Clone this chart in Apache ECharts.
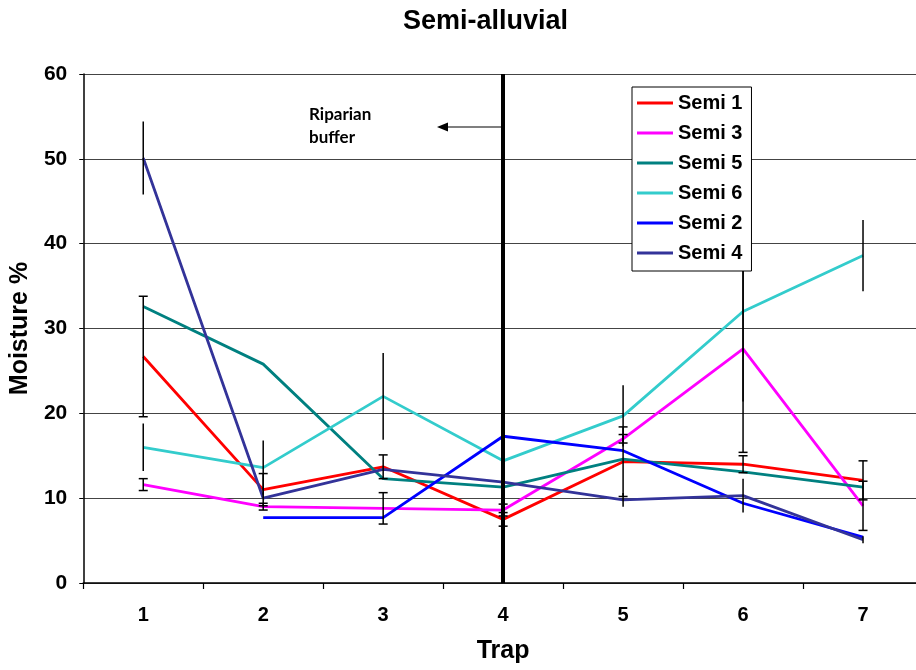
<!DOCTYPE html>
<html>
<head>
<meta charset="utf-8">
<script src="https://cdn.jsdelivr.net/npm/echarts@6/dist/echarts.min.js"></script>
<style>
html,body{margin:0;padding:0;background:#fff;overflow:hidden;}
#chart{width:923px;height:670px;}
</style>
</head>
<body>
<div id="chart"></div>
<script>
var traps = ['1', '2', '3', '4', '5', '6', '7'];
var yTicks = [0, 10, 20, 30, 40, 50, 60];

// mean moisture per trap
var semi1 = [26.7, 11.0, 13.7, 7.5, 14.3, 14.0, 12.1];
var semi3 = [11.6, 9.0, 8.8, 8.6, 17.0, 27.6, 9.1];
var semi5 = [32.6, 25.8, 12.3, 11.3, 14.6, 13.1, 11.3];
var semi6 = [16.0, 13.6, 22.0, 14.4, 19.7, 32.0, 38.6];
var semi2 = [null, 7.7, 7.7, 17.3, 15.6, 9.4, 5.4];
var semi4 = [50.1, 10.0, 13.4, 11.9, 9.8, 10.3, 5.1];

// error (+/-), null = no bar
var semi1Err = [7.1, 1.9, 1.4, 0.8, 4.1, 1.0, 2.3];
var semi3Err = [0.7, 0.4, 1.85, 0.7, 0.5, 12.2, 2.9];
var semi6Err = [2.8, 3.2, 5.1, null, 3.6, 10.6, 4.2];
var semi4Err = [4.3, null, null, null, 0.8, 2.0, 0.4];

var FONT = 'Liberation Sans';

function errData(vals, errs) {
    var out = [];
    for (var i = 0; i < vals.length; i++) {
        if (vals[i] == null || errs[i] == null) continue;
        out.push([i, vals[i] + errs[i], vals[i] - errs[i]]);
    }
    return out;
}

function makeErrRender(caps) {
    return function (params, api) {
        var hi = api.coord([api.value(0), api.value(1)]);
        var lo = api.coord([api.value(0), api.value(2)]);
        var st = { stroke: '#000', lineWidth: 1.5 };
        var kids = [{
            type: 'line',
            shape: { x1: hi[0], y1: hi[1], x2: lo[0], y2: lo[1] },
            style: st
        }];
        if (caps) {
            kids.push({ type: 'line', shape: { x1: hi[0] - 4.5, y1: hi[1], x2: hi[0] + 4.5, y2: hi[1] }, style: st });
            kids.push({ type: 'line', shape: { x1: lo[0] - 4.5, y1: lo[1], x2: lo[0] + 4.5, y2: lo[1] }, style: st });
        }
        return { type: 'group', children: kids };
    };
}

function lineSeries(name, data, color) {
    return {
        name: name,
        type: 'line',
        data: data,
        symbol: 'none',
        connectNulls: false,
        lineStyle: { color: color, width: 2.8 },
        itemStyle: { color: color },
        z: 2
    };
}

function errSeries(vals, errs, caps) {
    return {
        type: 'custom',
        data: errData(vals, errs),
        renderItem: makeErrRender(caps),
        silent: true,
        z: 3
    };
}

var chart = echarts.init(document.getElementById('chart'));
var option = {
    animation: false,
    backgroundColor: '#fff',
    title: {
        text: 'Semi-alluvial',
        left: 398,
        top: 3,
        textStyle: { fontFamily: FONT, fontSize: 27, fontWeight: 'bold', color: '#000' }
    },
    grid: { left: 83, top: 74, right: 0, bottom: 87 },
    legend: {
        data: ['Semi 1', 'Semi 3', 'Semi 5', 'Semi 6', 'Semi 2', 'Semi 4'],
        orient: 'vertical',
        left: 632,
        top: 87,
        padding: [6, 9, 8, 5],
        itemGap: 10,
        itemWidth: 36,
        itemHeight: 3,
        icon: 'rect',
        backgroundColor: '#fff',
        borderColor: '#000',
        borderWidth: 1,
        textStyle: { fontFamily: FONT, fontSize: 20, fontWeight: 'bold', color: '#000', lineHeight: 20 },
        z: 10
    },
    xAxis: {
        type: 'category',
        data: traps,
        name: 'Trap',
        nameLocation: 'middle',
        nameGap: 56,
        nameTextStyle: { fontFamily: FONT, fontSize: 25, fontWeight: 'bold', color: '#000' },
        axisLine: { lineStyle: { color: '#000', width: 1.5 } },
        axisTick: { show: true, length: 6, lineStyle: { color: '#000', width: 1.2 } },
        axisLabel: { fontFamily: FONT, fontSize: 20, fontWeight: 'bold', color: '#000', margin: 22 },
        splitLine: { show: false }
    },
    yAxis: {
        type: 'value',
        min: yTicks[0],
        max: yTicks[yTicks.length - 1],
        interval: 10,
        name: 'Moisture %',
        nameLocation: 'middle',
        nameGap: 50,
        nameTextStyle: { fontFamily: FONT, fontSize: 25, fontWeight: 'bold', color: '#000' },
        axisLine: { show: true, lineStyle: { color: '#000', width: 1.5 } },
        axisTick: { show: true, length: 4, lineStyle: { color: '#000' } },
        axisLabel: { fontFamily: FONT, fontSize: 21, fontWeight: 'bold', color: '#000', margin: 16 },
        splitLine: { show: true, lineStyle: { color: '#444', width: 1 } }
    },
    graphic: [
        {
            type: 'text',
            left: 309,
            top: 103,
            style: {
                text: 'Riparian\nbuffer',
                font: 'bold 17px Lato',
                lineHeight: 23,
                fill: '#000'
            }
        },
        {
            type: 'line',
            shape: { x1: 503, y1: 127, x2: 446, y2: 127 },
            style: { stroke: '#000', lineWidth: 1.2 }
        },
        {
            type: 'polygon',
            shape: { points: [[437, 127], [448, 122.5], [448, 131.5]] },
            style: { fill: '#000' }
        }
    ],
    series: [
        lineSeries('Semi 1', semi1, '#FF0000'),
        lineSeries('Semi 3', semi3, '#FF00FF'),
        lineSeries('Semi 5', semi5, '#008080'),
        lineSeries('Semi 6', semi6, '#33CCCC'),
        lineSeries('Semi 2', semi2, '#0000FF'),
        lineSeries('Semi 4', semi4, '#333399'),
        errSeries(semi1, semi1Err, true),
        errSeries(semi3, semi3Err, true),
        errSeries(semi6, semi6Err, false),
        errSeries(semi4, semi4Err, false),
        {
            type: 'line',
            data: [],
            z: 5,
            markLine: {
                silent: true,
                symbol: 'none',
                label: { show: false },
                lineStyle: { color: '#000', width: 4, type: 'solid' },
                data: [[{ coord: ['4', 0] }, { coord: ['4', 60] }]]
            }
        }
    ]
};
chart.setOption(option);
</script>
</body>
</html>
